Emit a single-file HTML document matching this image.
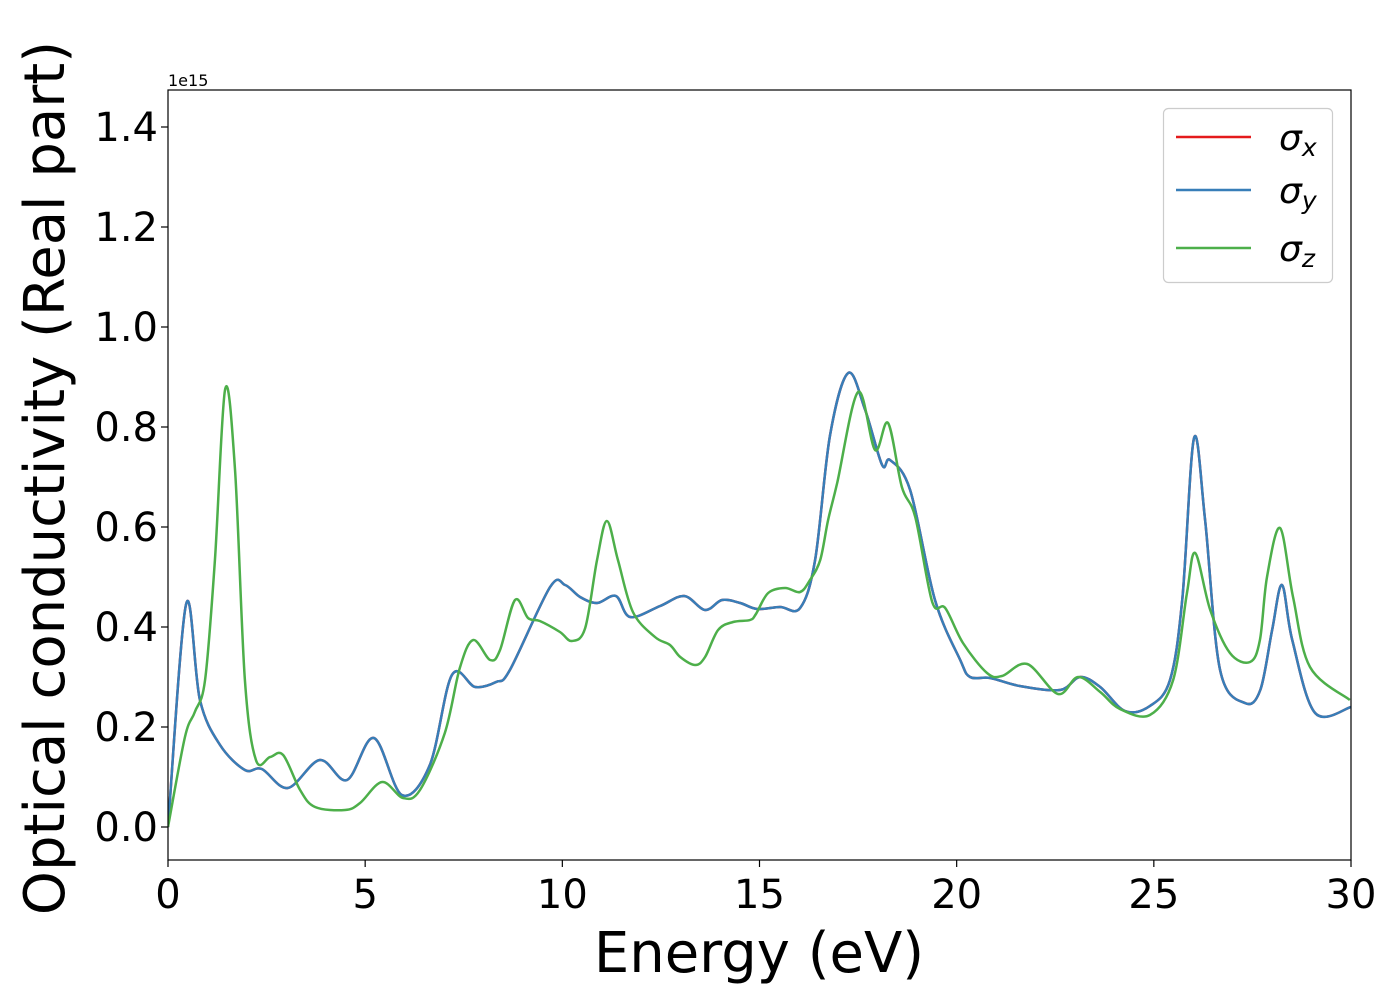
<!DOCTYPE html>
<html><head><meta charset="utf-8"><style>
body{margin:0;background:#fff;}
svg{display:block;font-family:"DejaVu Sans","Liberation Sans",sans-serif;}
</style></head><body>
<svg id="chart" width="1400" height="1000" viewBox="0 0 1400 1000">
<rect x="0" y="0" width="1400" height="1000" fill="#fff"/>
<g id="plot"></g>
<g id="axes"></g>
<text x="168" y="86" font-size="16">1e15</text>
<text x="759" y="972" font-size="56" text-anchor="middle">Energy (eV)</text>
<text transform="translate(64,478) rotate(-90)" font-size="56" text-anchor="middle">Optical conductivity (Real part)</text>
<g>
<rect x="1163.5" y="108.5" width="169" height="174" rx="5" fill="#fff" fill-opacity="0.8" stroke="#ccc" stroke-width="1.2"/>
<line x1="1176" y1="137" x2="1251" y2="137" stroke="#e41a1c" stroke-width="2.5"/>
<line x1="1176" y1="190" x2="1251" y2="190" stroke="#377eb8" stroke-width="2.5"/>
<line x1="1176" y1="248" x2="1251" y2="248" stroke="#4daf4a" stroke-width="2.5"/>
<text x="1279" y="150" font-size="36" font-style="italic">σ<tspan font-size="25" dy="6">x</tspan></text>
<text x="1279" y="203" font-size="36" font-style="italic">σ<tspan font-size="25" dy="6">y</tspan></text>
<text x="1279" y="261" font-size="36" font-style="italic">σ<tspan font-size="25" dy="6">z</tspan></text>
</g>
</svg>
<script>
const xTicks=[0,5,10,15,20,25,30];
const yTicks=[0.0,0.2,0.4,0.6,0.8,1.0,1.2,1.4];
const yTickLabels=["0.0","0.2","0.4","0.6","0.8","1.0","1.2","1.4"];
const energyXY=[0,0.46,0.81,1.32,1.95,2.38,3.04,3.85,4.54,5.22,5.93,6.64,7.2,7.79,8.32,8.67,9.69,10.07,10.45,10.88,11.36,11.72,12.48,13.09,13.62,14.05,14.51,14.94,15.52,16.03,16.41,16.79,17.25,17.68,18.11,18.31,18.82,19.45,20.09,20.34,20.85,21.6,22.62,23.13,23.64,24.27,24.9,25.41,25.72,26.02,26.3,26.68,27.31,27.7,28.0,28.25,28.51,29.09,30];
const sigmaXY=[0,0.446,0.254,0.164,0.114,0.116,0.078,0.134,0.094,0.178,0.064,0.124,0.304,0.28,0.29,0.314,0.48,0.484,0.46,0.448,0.462,0.42,0.442,0.462,0.434,0.454,0.448,0.436,0.44,0.438,0.534,0.784,0.908,0.834,0.724,0.734,0.674,0.454,0.334,0.3,0.298,0.282,0.274,0.3,0.28,0.232,0.242,0.294,0.454,0.778,0.614,0.314,0.248,0.274,0.394,0.484,0.374,0.228,0.24];
const energyZ=[0,0.43,0.68,0.94,1.19,1.45,1.7,1.95,2.23,2.59,2.92,3.35,3.73,4.49,4.87,5.43,5.96,6.39,7.02,7.4,7.74,8.17,8.42,8.8,9.13,9.43,9.94,10.24,10.58,10.88,11.13,11.41,11.79,12.35,12.73,12.99,13.37,13.62,13.95,14.33,14.76,14.91,15.22,15.65,16.03,16.28,16.54,16.74,16.97,17.5,17.93,18.26,18.61,18.95,19.38,19.71,20.16,20.77,21.15,21.79,22.57,23.08,23.64,24.14,24.9,25.49,25.84,26.05,26.43,26.93,27.44,27.69,27.87,28.2,28.53,28.96,29.97];
const sigmaZ=[0,0.18,0.23,0.294,0.534,0.876,0.714,0.294,0.134,0.14,0.144,0.074,0.04,0.034,0.048,0.09,0.058,0.074,0.188,0.318,0.374,0.334,0.354,0.454,0.418,0.412,0.39,0.372,0.398,0.534,0.612,0.534,0.43,0.38,0.364,0.34,0.324,0.34,0.394,0.41,0.414,0.426,0.468,0.478,0.47,0.494,0.534,0.614,0.688,0.87,0.754,0.808,0.68,0.62,0.45,0.438,0.368,0.308,0.302,0.326,0.266,0.3,0.27,0.236,0.224,0.294,0.468,0.548,0.434,0.348,0.33,0.374,0.5,0.598,0.46,0.32,0.254];

const X0=168,X1=1351,Y0=90,Y1=860;
const xScale=e=>X0+(e-0)/(30-0)*(X1-X0);
const yScale=v=>827-v*500;
const NS="http://www.w3.org/2000/svg";
const plot=document.getElementById('plot'),axes=document.getElementById('axes');
function mk(tag,attrs,parent){const el=document.createElementNS(NS,tag);for(const k in attrs)el.setAttribute(k,attrs[k]);parent.appendChild(el);return el;}
function pathFor(xs,ys){
  const p=xs.map((x,i)=>[xScale(x),yScale(ys[i])]);
  let d=`M${p[0][0]},${p[0][1]}`;
  for(let i=0;i<p.length-1;i++){
    const a=p[Math.max(0,i-1)],b=p[i],c=p[i+1],e=p[Math.min(p.length-1,i+2)];
    const c1=[b[0]+(c[0]-a[0])/6,b[1]+(c[1]-a[1])/6],c2=[c[0]-(e[0]-b[0])/6,c[1]-(e[1]-b[1])/6];
    d+=` C${c1[0]},${c1[1]} ${c2[0]},${c2[1]} ${c[0]},${c[1]}`;
  }
  return d;
}
const clip=mk('clipPath',{id:'clp'},plot);mk('rect',{x:X0,y:Y0,width:X1-X0,height:Y1-Y0},clip);
const g=mk('g',{'clip-path':'url(#clp)'},plot);
const lx=mk('path',{d:pathFor(energyXY,sigmaXY),fill:'none',stroke:'#e41a1c','stroke-width':2.5},g);


const ly=mk('path',{d:pathFor(energyXY,sigmaXY),fill:'none',stroke:'#377eb8','stroke-width':2.5},g);


const lz=mk('path',{d:pathFor(energyZ,sigmaZ),fill:'none',stroke:'#4daf4a','stroke-width':2.5},g);


const frame=mk('rect',{x:X0,y:Y0,width:X1-X0,height:Y1-Y0,fill:'none',stroke:'#000','stroke-width':1.2},axes);


xTicks.forEach(t=>{
  const x=xScale(t);
  const tk=mk('line',{x1:x,y1:Y1,x2:x,y2:Y1+7,stroke:'#000','stroke-width':1.2},axes);
  
  
  const tx=mk('text',{x:x,y:908,'font-size':40,'text-anchor':'middle'},axes);
  tx.textContent=String(t);
  
  
});
yTicks.forEach((t,i)=>{
  const y=yScale(t);
  const tk=mk('line',{x1:X0-7,y1:y,x2:X0,y2:y,stroke:'#000','stroke-width':1.2},axes);
  
  
  const tx=mk('text',{x:158,y:y+14,'font-size':40,'text-anchor':'end'},axes);
  tx.textContent=yTickLabels[i];
  
  
});
</script>
</body></html>
